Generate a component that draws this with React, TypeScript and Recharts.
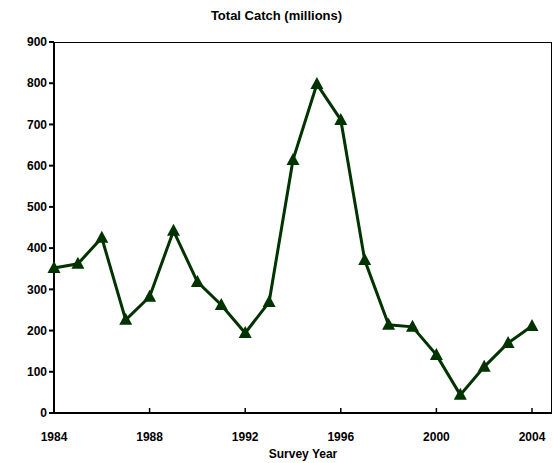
import React from "react";
import { LineChart, Line, XAxis, YAxis, CartesianGrid } from "recharts";

const years = [1984, 1985, 1986, 1987, 1988, 1989, 1990, 1991, 1992, 1993, 1994, 1995, 1996, 1997, 1998, 1999, 2000, 2001, 2002, 2003, 2004];
const catchValues = [352, 362, 425, 226, 282, 442, 318, 262, 194, 269, 614, 798, 711, 371, 214, 209, 141, 44, 112, 170, 211];
const xTicks = [1984, 1988, 1992, 1996, 2000, 2004];
const yTicks = [0, 100, 200, 300, 400, 500, 600, 700, 800, 900];

const data = years.map((year, i) => ({ year, value: catchValues[i] }));

const GREEN = "#003300";
const FONT = "'Liberation Sans', Arial, sans-serif";

const Triangle = (props: any) => {
  const { cx, cy } = props;
  if (cx == null || cy == null) return null;
  return <path d={`M${cx},${cy - 7} L${cx + 6.5},${cy + 5} L${cx - 6.5},${cy + 5} Z`} fill={GREEN} />;
};

// x ticks point up into the plot, labels sit well below the axis
const YearTick = (props: any) => {
  const { x, y, payload } = props;
  return (
    <g>
      <line x1={x} x2={x} y1={y} y2={y - 5} stroke="#000" strokeWidth={1.5} />
      <text x={x} y={y + 28} textAnchor="middle" fill="#000" fontSize={12} fontWeight="bold" fontFamily={FONT}>
        {payload.value}
      </text>
    </g>
  );
};

export default function App() {
  return (
    <div style={{ position: "absolute", left: 0, top: 0, width: 553, height: 463, background: "#fff", fontFamily: FONT }}>
      <div style={{ position: "absolute", top: 8, width: "100%", textAlign: "center", fontWeight: "bold", fontSize: 13 }}>
        Total Catch (millions)
      </div>
      <LineChart width={553} height={463} data={data} margin={{ top: 42, right: 1, bottom: 0, left: 0 }}>
        <CartesianGrid horizontal={false} vertical={false} stroke="#000" />
        <XAxis
          dataKey="year"
          type="number"
          domain={[1984, 2004]}
          ticks={xTicks}
          stroke="#000"
          strokeWidth={2}
          tickLine={false}
          tickSize={0}
          tickMargin={0}
          height={50}
          padding={{ left: 0, right: 20 }}
          tick={<YearTick />}
          label={{ value: "Survey Year", position: "insideBottom", offset: 5, fill: "#000", fontSize: 12, fontWeight: "bold", fontFamily: FONT }}
        />
        <YAxis
          type="number"
          domain={[0, 900]}
          ticks={yTicks}
          stroke="#000"
          strokeWidth={2}
          tickSize={5}
          width={54}
          tick={{ fill: "#000", fontSize: 12, fontWeight: "bold", fontFamily: FONT }}
        />
        <Line
          dataKey="value"
          stroke={GREEN}
          strokeWidth={3}
          dot={<Triangle />}
          activeDot={false}
          isAnimationActive={false}
        />
      </LineChart>
      <div style={{ position: "absolute", left: 54, top: 42, width: 497, height: 371, borderTop: "1px solid #000", borderRight: "1px solid #000", pointerEvents: "none" }} />
    </div>
  );
}
